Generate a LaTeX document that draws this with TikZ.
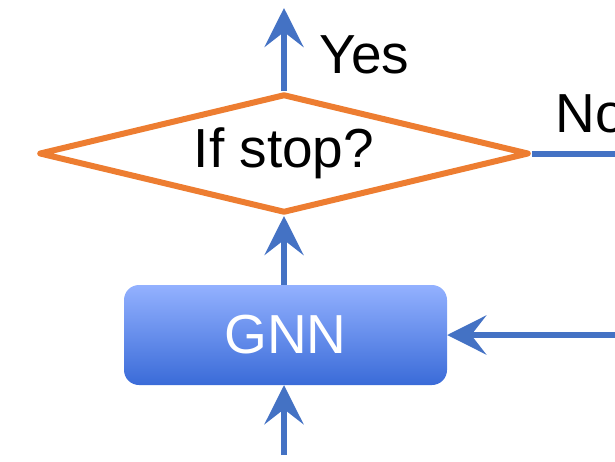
\documentclass[tikz,border=0pt]{standalone}
\usepackage{fontspec}
\setmainfont{Liberation Sans}
\usetikzlibrary{shapes.geometric, arrows.meta, positioning}
\definecolor{flowblue}{HTML}{4472C4}
\definecolor{floworange}{HTML}{ED7D31}
\definecolor{gnntop}{HTML}{93B1FF}
\definecolor{gnnbottom}{HTML}{3A6BD8}

\begin{document}
\begin{tikzpicture}[x=1pt, y=-1pt,
  flow/.style={line width=6pt, draw=flowblue, -{Stealth[length=39pt, width=39pt, inset=15pt]}},
  bigtext/.style={font=\fontsize{55}{66}\selectfont}]
\useasboundingbox (0,0) rectangle (615,461);

% Decision
\node[diamond, draw=floworange, line width=6pt, line join=round, aspect=4.1,
      minimum width=490pt, minimum height=119pt, inner sep=0pt, bigtext] (stop) at (284,153.5) {If stop?};

% GNN block
\node[rounded corners=15pt, top color=gnntop, bottom color=gnnbottom,
      minimum width=323pt, minimum height=100pt, text=white, bigtext] (gnn) at (285.5,335) {GNN};

% Free ends
\coordinate (yesend) at (284,8);
\coordinate (noend) at (615,153.5);
\coordinate (inbottom) at (284,455);
\coordinate (inright) at (615,335);

% Connectors
\draw[flow] (gnn.north -| stop.south) -- (stop.south);
\draw[flow] (inbottom) -- (inbottom |- gnn.south);
\draw[flow] (inright) -- (gnn.east);
\draw[flow] (stop.north) -- (yesend);
\draw[line width=6pt, flowblue] (stop.east) -- (noend);

% Labels
\node[bigtext, anchor=west] (yes) at (316,55) {Yes};
\node[bigtext, anchor=west] (no) at (552,114) {No};

\end{tikzpicture}
\end{document}
